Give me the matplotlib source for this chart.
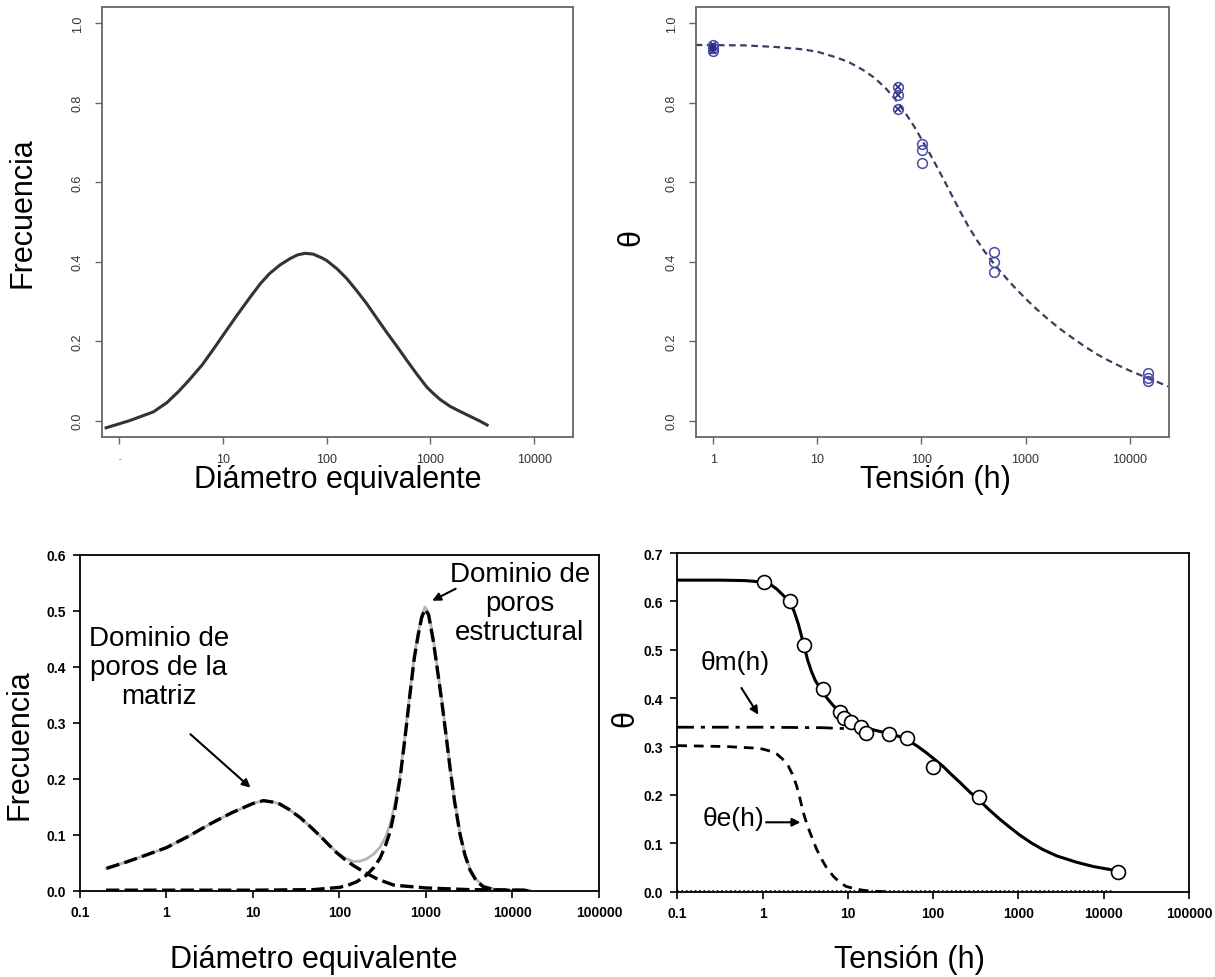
import matplotlib
matplotlib.use('Agg')
import matplotlib.pyplot as plt
from matplotlib.ticker import FixedLocator, NullLocator

plt.rcParams['font.family'] = ['Liberation Sans', 'DejaVu Sans']

# --- arriba izquierda: distribucion de poros (un solo modo)
diam_tl = [0.75, 1.26, 2.14, 2.88, 3.8, 4.84, 6.31, 8.13, 10.5, 13.6, 17.8, 22.9, 28.2, 35.7,
           44.7, 52.5, 62.2, 74.1, 89.1, 100, 126, 157, 195, 244, 302, 380, 479, 596, 741,
           927, 1072, 1245, 1549, 1905, 2455, 2951, 3524]
freq_tl = [-0.018, 0.0, 0.022, 0.045, 0.075, 0.105, 0.14, 0.18, 0.222, 0.264, 0.306, 0.344,
           0.37, 0.392, 0.408, 0.417, 0.421, 0.419, 0.41, 0.403, 0.382, 0.357, 0.327, 0.294,
           0.259, 0.222, 0.186, 0.151, 0.117, 0.084, 0.068, 0.053, 0.036, 0.024, 0.01, 0.0,
           -0.011]

# --- arriba derecha: curva de retencion (puntos + ajuste)
h_obs = [1, 1, 1, 60, 60, 60, 101, 101, 101, 502, 502, 502, 14900, 14900, 14900]
th_obs = [0.945, 0.937, 0.93, 0.839, 0.819, 0.784, 0.696, 0.681, 0.648,
          0.424, 0.398, 0.373, 0.12, 0.107, 0.099]
n_cruz = 6  # los primeros puntos llevan una x encima
h_ajuste = [0.676, 2.0, 3.98, 7.24, 10, 15.1, 20, 27.5, 35.5, 45.7, 56.2, 70.8, 85.1, 100,
            120, 141, 170, 200, 240, 282, 339, 398, 479, 562, 676, 794, 1000, 1259, 1585,
            2089, 2692, 3548, 4786, 6310, 7943, 10000, 12590, 15850, 19050, 23440]
th_ajuste = [0.945, 0.944, 0.940, 0.934, 0.928, 0.914, 0.902, 0.882, 0.862, 0.835, 0.808,
             0.772, 0.74, 0.708, 0.672, 0.638, 0.598, 0.562, 0.522, 0.489, 0.455, 0.428, 0.40,
             0.378, 0.354, 0.334, 0.307, 0.282, 0.259, 0.233, 0.212, 0.19, 0.168, 0.151,
             0.138, 0.126, 0.115, 0.104, 0.096, 0.086]

# --- abajo izquierda: distribucion bimodal
diam_bl = [0.203, 0.355, 0.562, 1.0, 1.78, 3.16, 5.62, 10.0, 13.2, 17.8, 20.4, 26.3, 34.9,
           45.7, 59.6, 74.1, 92.7, 115, 145, 174, 206, 251, 294, 339, 384, 437, 501, 575,
           653, 733, 815, 891, 973, 1072, 1216, 1349, 1517, 1698, 1892, 2138, 2472, 2818,
           3228, 3802, 4603, 5754, 7161, 15850]
freq_total = [0.040, 0.052, 0.063, 0.077, 0.097, 0.119, 0.139, 0.156, 0.161, 0.158, 0.155,
              0.145, 0.131, 0.115, 0.098, 0.083, 0.069, 0.059, 0.052, 0.053, 0.057, 0.066,
              0.078, 0.095, 0.118, 0.155, 0.206, 0.28, 0.355, 0.42, 0.462, 0.492, 0.507,
              0.497, 0.45, 0.40, 0.343, 0.283, 0.224, 0.163, 0.104, 0.066, 0.039, 0.02,
              0.009, 0.004, 0.001, 0.001]
diam_matriz = [0.203, 0.355, 0.562, 1.0, 1.78, 3.16, 5.62, 10.0, 13.2, 17.8, 20.4, 26.3,
               34.9, 45.7, 59.6, 74.1, 92.7, 115, 145, 200, 282, 427, 1000, 3162, 15850]
freq_matriz = [0.040, 0.052, 0.063, 0.077, 0.097, 0.119, 0.139, 0.156, 0.161, 0.158, 0.155,
               0.145, 0.131, 0.115, 0.098, 0.083, 0.068, 0.056, 0.045, 0.032, 0.02, 0.01,
               0.005, 0.002, 0.001]
diam_estruct = [0.2, 10, 50, 100, 126, 158, 206, 251, 294, 339, 384, 437, 501, 575, 653, 733,
                815, 891, 973, 1072, 1216, 1349, 1517, 1698, 1892, 2138, 2472, 2818, 3228,
                3802, 4603, 5754, 7161, 15850]
freq_estruct = [0.001, 0.001, 0.002, 0.006, 0.01, 0.016, 0.028, 0.042, 0.058, 0.08, 0.105,
                0.145, 0.2, 0.276, 0.351, 0.416, 0.458, 0.488, 0.503, 0.493, 0.446, 0.397,
                0.34, 0.28, 0.221, 0.16, 0.101, 0.064, 0.037, 0.018, 0.007, 0.003, 0.001, 0.0]

# --- abajo derecha: curva bimodal y componentes
h_pts = [1.04, 2.09, 3.05, 5.05, 8.05, 8.97, 11.0, 14.2, 16.3, 30.5, 50, 100, 347, 14800]
th_pts = [0.640, 0.600, 0.510, 0.419, 0.371, 0.359, 0.350, 0.340, 0.329, 0.326, 0.317, 0.258,
          0.196, 0.041]
h_total = [0.1, 0.316, 0.631, 1.0, 1.26, 1.46, 1.74, 2.09, 2.34, 2.63, 3.05, 3.39, 3.75, 4.17,
           5.05, 5.89, 6.73, 7.94, 9.64, 11.5, 13.8, 17.4, 21.7, 26.9, 34.0, 42.7, 53.3,
           67.6, 83.6, 105, 131, 162, 206, 269, 352, 457, 604, 794, 1038, 1413, 1945, 2818,
           4786, 7586, 11750, 15000]
th_total = [0.644, 0.644, 0.643, 0.640, 0.634, 0.626, 0.613, 0.598, 0.58, 0.553, 0.51, 0.478,
            0.455, 0.436, 0.413, 0.397, 0.385, 0.372, 0.359, 0.350, 0.343, 0.337, 0.333,
            0.329, 0.325, 0.319, 0.311, 0.299, 0.287, 0.273, 0.259, 0.243, 0.226, 0.206,
            0.188, 0.169, 0.150, 0.133, 0.117, 0.101, 0.087, 0.074, 0.061, 0.052, 0.046,
            0.043]
h_m = [0.1, 1, 5, 10]
th_m = [0.34, 0.34, 0.339, 0.337]
h_e = [0.1, 0.38, 0.79, 1.0, 1.26, 1.46, 1.70, 2.0, 2.24, 2.51, 2.75, 3.0, 3.27, 3.59, 3.94,
       4.3, 4.9, 5.62, 6.76, 8.05, 9.55, 11.6, 15.1, 19.8, 28.2]
th_e = [0.302, 0.300, 0.297, 0.295, 0.29, 0.285, 0.275, 0.26, 0.243, 0.219, 0.192, 0.164,
        0.143, 0.123, 0.105, 0.088, 0.068, 0.05, 0.032, 0.019, 0.011, 0.007, 0.003, 0.001,
        0.0]
h_cero = [0.1, 13000]
th_cero = [0.002, 0.002]

fig = plt.figure(figsize=(12.15, 9.78), dpi=100)
ax_tl = fig.add_axes([0.0837, 0.5526, 0.3879, 0.439])
ax_tr = fig.add_axes([0.5728, 0.5526, 0.389, 0.439])
ax_bl = fig.add_axes([0.0658, 0.0882, 0.4272, 0.3433])
ax_br = fig.add_axes([0.5574, 0.0872, 0.4212, 0.3463])


def estilo_r(ax):
    for s in ax.spines.values():
        s.set_color('#666666')
        s.set_linewidth(1.3)
    ax.set_xscale('log')
    ax.set_xlim(0.68, 23700)
    ax.set_ylim(-0.04, 1.04)
    ax.xaxis.set_major_locator(FixedLocator([1, 10, 100, 1000, 10000]))
    ax.xaxis.set_minor_locator(NullLocator())
    ax.set_yticks([0, 0.2, 0.4, 0.6, 0.8, 1.0])
    ax.set_yticklabels(['0.0', '0.2', '0.4', '0.6', '0.8', '1.0'])
    ax.tick_params(direction='out', length=5, width=1, colors='#666666',
                   labelcolor='#333333', labelsize=9)
    ax.tick_params(axis='y', labelrotation=90, pad=8)
    ax.tick_params(axis='x', pad=7)
    for lab in ax.get_yticklabels():
        lab.set_va('center')


def estilo_sigma(ax, ymax):
    for s in ax.spines.values():
        s.set_color('black')
        s.set_linewidth(1.3)
    ax.set_xscale('log')
    ax.set_xlim(0.1, 100000)
    ax.set_ylim(0, ymax)
    ax.xaxis.set_major_locator(FixedLocator([0.1, 1, 10, 100, 1000, 10000, 100000]))
    ax.xaxis.set_minor_locator(NullLocator())
    ax.set_xticklabels(['0.1', '1', '10', '100', '1000', '10000', '100000'])
    yt = [i / 10 for i in range(int(round(ymax * 10)) + 1)]
    ax.set_yticks(yt)
    ax.set_yticklabels([f'{v:.1f}' for v in yt])
    ax.tick_params(direction='out', length=5, width=1.2, labelsize=10, pad=5)
    for lab in ax.get_xticklabels() + ax.get_yticklabels():
        lab.set_fontweight('bold')


# arriba izquierda
estilo_r(ax_tl)
ax_tl.set_xticklabels(['·', '10', '100', '1000', '10000'])
ax_tl.plot(diam_tl, freq_tl, color='#333333', lw=2.2)
ax_tl.set_ylabel('Frecuencia', fontsize=22, va='center')
ax_tl.yaxis.set_label_coords(-0.167, 0.523)
ax_tl.set_xlabel('Diámetro equivalente', fontsize=22, va='center')
ax_tl.xaxis.set_label_coords(0.5, -0.099)

# arriba derecha
estilo_r(ax_tr)
ax_tr.set_xticklabels(['1', '10', '100', '1000', '10000'])
ax_tr.plot(h_ajuste, th_ajuste, color='#3c3c60', lw=1.6, dashes=(3, 2))
ax_tr.plot(h_obs, th_obs, 'o', ms=7, mfc='none', mec='#4a4aa8', mew=1.1)
ax_tr.plot(h_obs[:n_cruz], th_obs[:n_cruz], 'x', ms=5, color='#2a2a80', mew=1.2)
ax_tr.set_ylabel('θ', fontsize=22, va='center')
ax_tr.yaxis.set_label_coords(-0.1375, 0.465)
ax_tr.set_xlabel('Tensión (h)', fontsize=22, va='center')
ax_tr.xaxis.set_label_coords(0.506, -0.099)

# abajo izquierda
estilo_sigma(ax_bl, 0.6)
ax_bl.plot(diam_bl, freq_total, color='#b5b5b5', lw=2)
ax_bl.plot(diam_matriz, freq_matriz, color='black', lw=2.4, dashes=(4, 1.6))
ax_bl.plot(diam_estruct, freq_estruct, color='black', lw=2.4, dashes=(4, 1.6))
ax_bl.text(0.82, 0.399, 'Dominio de\nporos de la\nmatriz', fontsize=20, ha='center',
           va='center', linespacing=1.15)
ax_bl.annotate('', xy=(9.9, 0.181), xytext=(1.79, 0.283),
               arrowprops=dict(arrowstyle='-|>', color='black', lw=1.5, mutation_scale=12))
ax_bl.text(12200, 0.515, 'Dominio de\nporos\nestructural', fontsize=20, ha='center',
           va='center', linespacing=1.15)
ax_bl.annotate('', xy=(1107, 0.516), xytext=(2355, 0.542),
               arrowprops=dict(arrowstyle='-|>', color='black', lw=1.5, mutation_scale=12))
ax_bl.set_ylabel('Frecuencia', fontsize=22, va='center')
ax_bl.yaxis.set_label_coords(-0.1156, 0.437)
ax_bl.set_xlabel('Diámetro equivalente', fontsize=22, va='center')
ax_bl.xaxis.set_label_coords(0.451, -0.203)

# abajo derecha
estilo_sigma(ax_br, 0.7)
ax_br.plot(h_cero, th_cero, color='black', lw=1.2, ls=':')
ax_br.plot(h_m, th_m, color='black', lw=2, dashes=(6, 2.5, 1.5, 2.5))
ax_br.plot(h_e, th_e, color='black', lw=2, dashes=(3.5, 2.5))
ax_br.plot(h_total, th_total, color='black', lw=2.2)
ax_br.plot(h_pts, th_pts, 'o', ms=10, mfc='white', mec='black', mew=1.2)
ax_br.text(0.48, 0.475, 'θm(h)', fontsize=19, ha='center', va='center')
ax_br.annotate('', xy=(0.93, 0.361), xytext=(0.543, 0.426),
               arrowprops=dict(arrowstyle='-|>', color='black', lw=1.5, mutation_scale=12))
ax_br.text(0.456, 0.152, 'θe(h)', fontsize=19, ha='center', va='center')
ax_br.annotate('', xy=(3.0, 0.1435), xytext=(1.02, 0.1435),
               arrowprops=dict(arrowstyle='-|>', color='black', lw=1.5, mutation_scale=12))
ax_br.set_ylabel('θ', fontsize=22, va='center')
ax_br.yaxis.set_label_coords(-0.101, 0.514)
ax_br.set_xlabel('Tensión (h)', fontsize=22, va='center')
ax_br.xaxis.set_label_coords(0.454, -0.198)

fig.savefig('out.png', dpi=100)
